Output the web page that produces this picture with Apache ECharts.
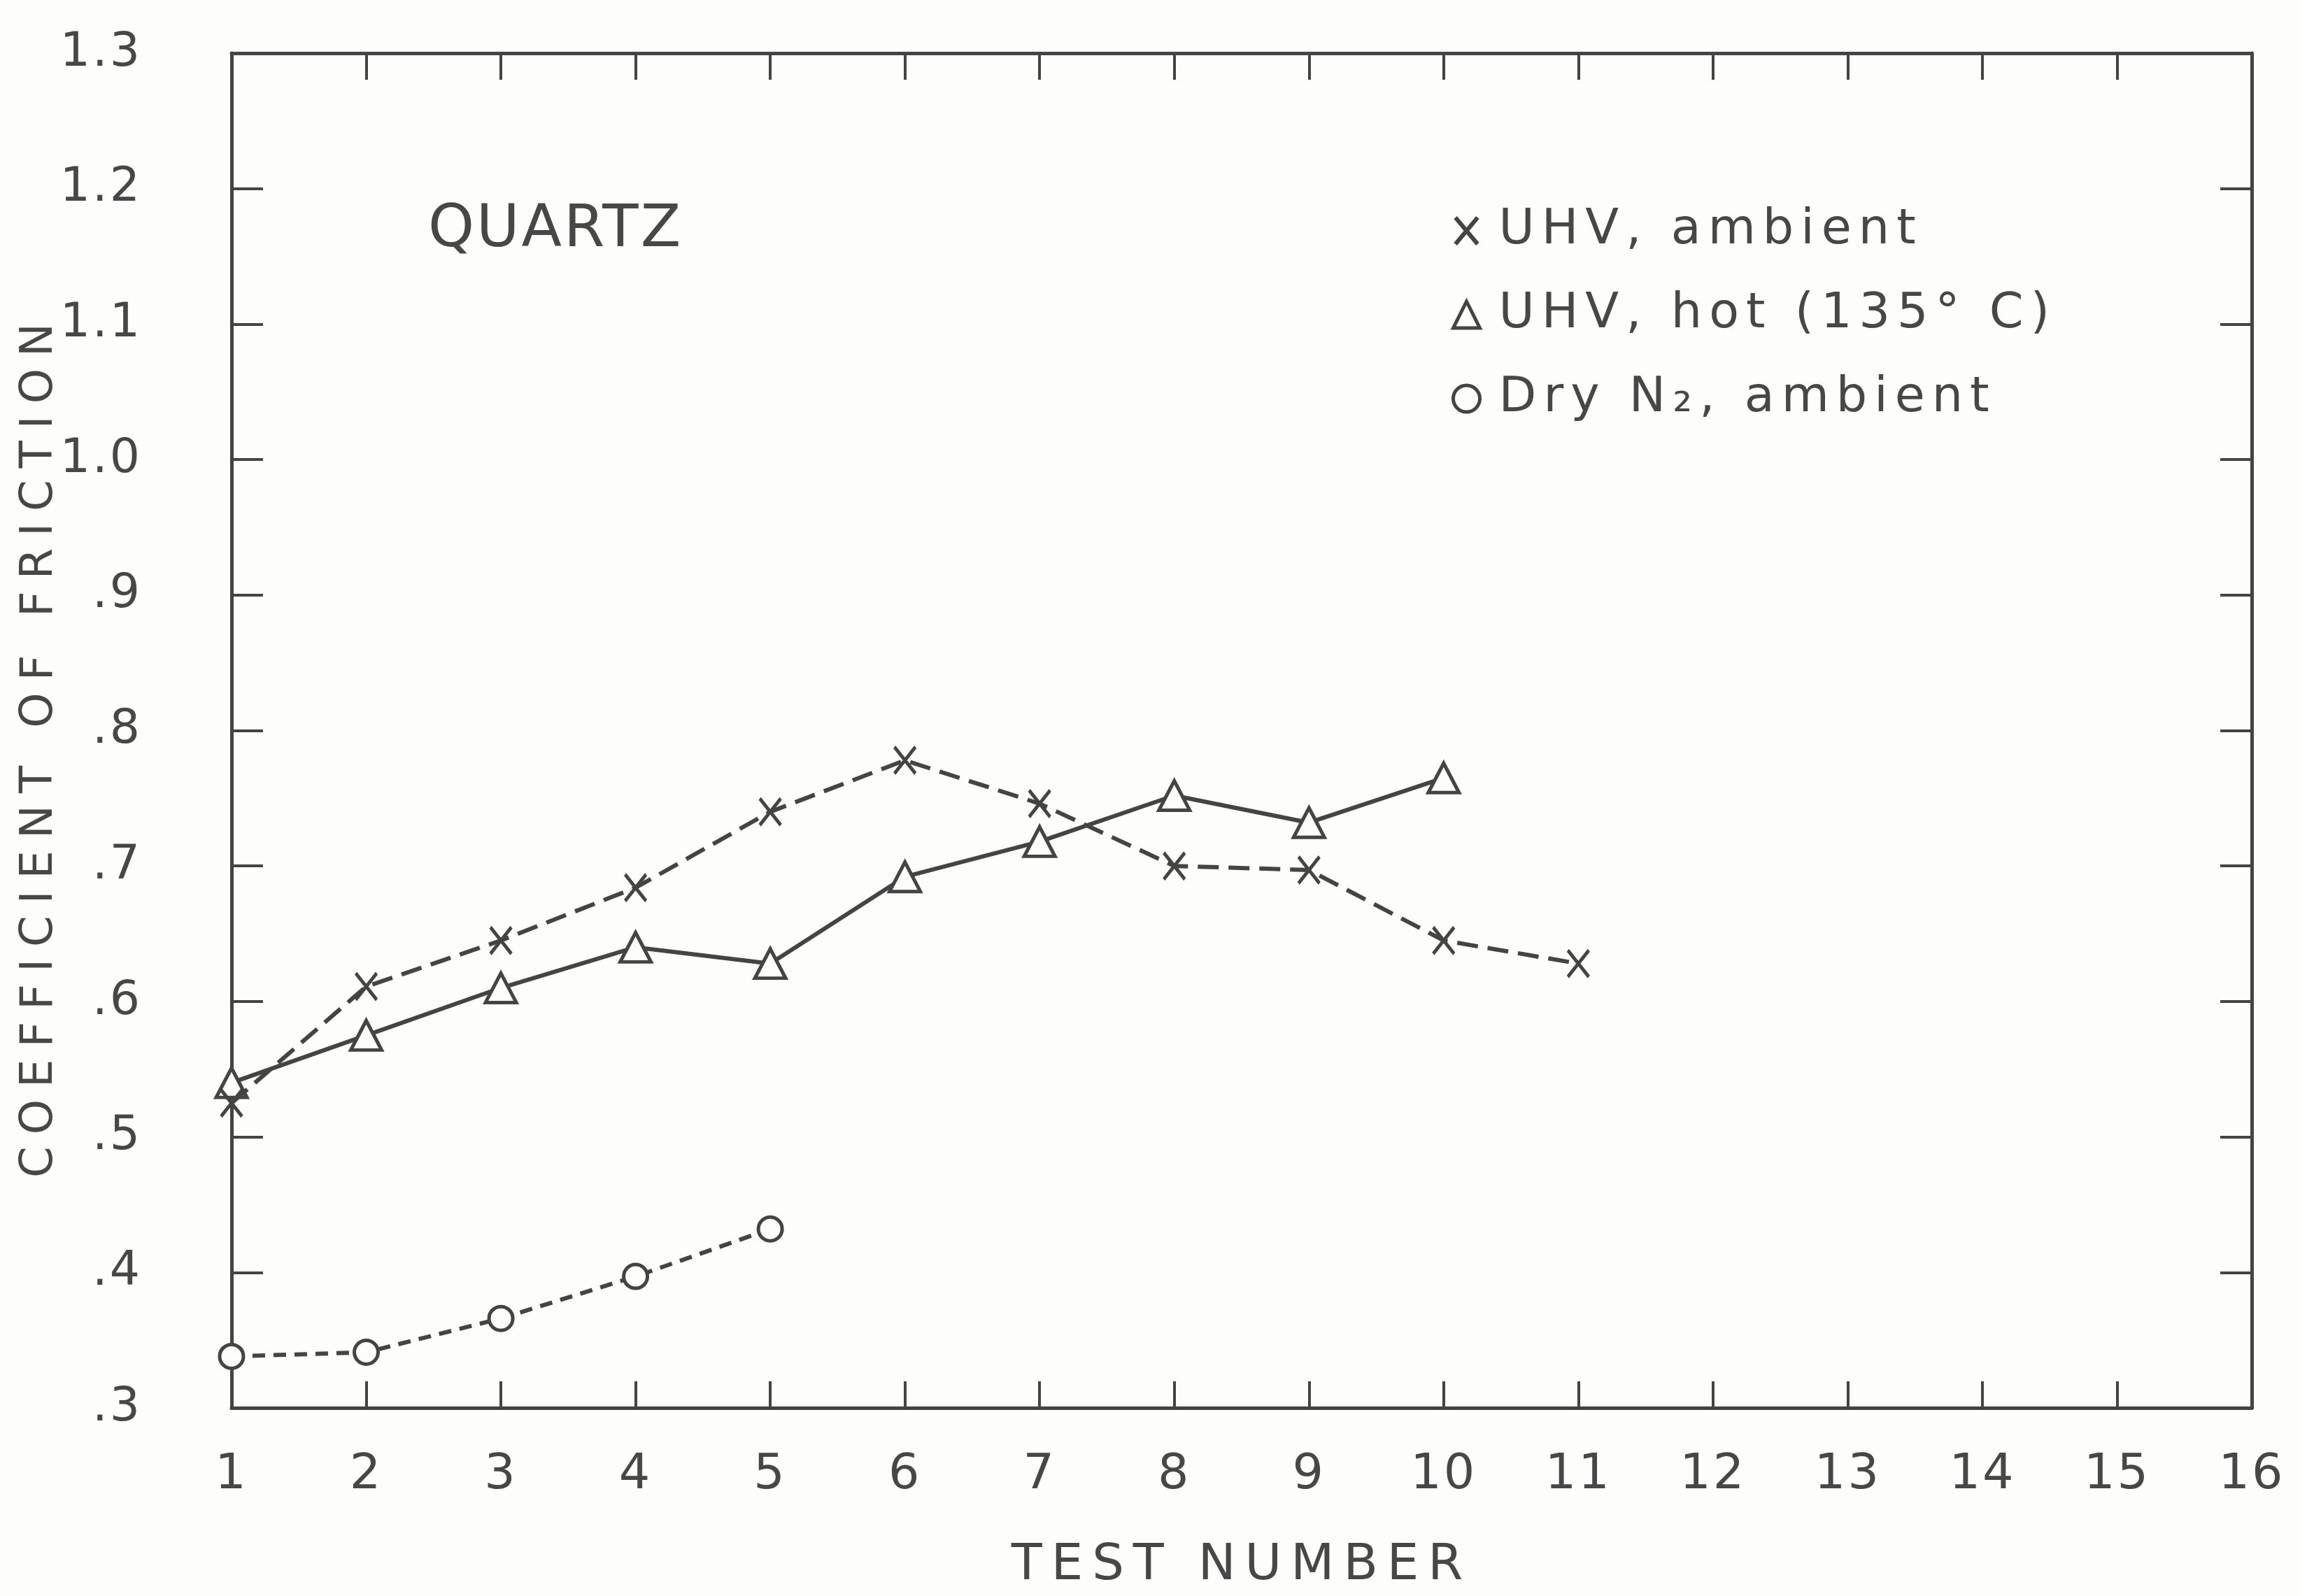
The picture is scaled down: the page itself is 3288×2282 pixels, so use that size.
<!DOCTYPE html>
<html>
<head>
<meta charset="utf-8">
<script src="https://cdn.jsdelivr.net/npm/echarts@6/dist/echarts.min.js"></script>
<style>
  html, body { margin: 0; padding: 0; background: #fdfdfc; }
  #chart { width: 3288px; height: 2282px; }
</style>
</head>
<body>
<div id="chart"></div>
<script>
// Test numbers on the horizontal axis
const testNumbers = [1, 2, 3, 4, 5, 6, 7, 8, 9, 10, 11, 12, 13, 14, 15, 16];
// Coefficient of friction tick labels, from 0.3 up to 1.3
const yTickLabels = ['.3', '.4', '.5', '.6', '.7', '.8', '.9', '1.0', '1.1', '1.2', '1.3'];

// Series names as printed in the key
const seriesNames = ['UHV, ambient', 'UHV, hot (135° C)', 'Dry N₂, ambient'];

// Measured friction coefficients per test
const uhvAmbient = [0.525, 0.611, 0.645, 0.684, 0.740, 0.778, 0.746, 0.700, 0.697, 0.645, 0.628];
const uhvHot     = [0.540, 0.575, 0.610, 0.640, 0.628, 0.692, 0.718, 0.752, 0.732, 0.765];
const dryN2      = [0.338, 0.341, 0.366, 0.397, 0.432];

const INK = '#444444';
const TEXT = '#474747';
const NUM_FONT = 'DejaVu Sans';
// Lettered titles: the trailing "track-N" family is never installed; it only
// tells the fillText hook below how many pixels of tracking to add.
const lettered = track => 'DejaVu Sans, track-' + track;
const X_MARK = 'path://M0,0L10,12M10,0L0,12';

// Stencil-style lettering: widen letter spacing for text set with lettered().
(function () {
  const proto = CanvasRenderingContext2D.prototype;
  const fill = proto.fillText;
  proto.fillText = function (text, x, y, maxWidth) {
    const m = /track-(\d+)/.exec(this.font);
    if (m && 'letterSpacing' in this) {
      const prev = this.letterSpacing;
      this.letterSpacing = m[1] + 'px';
      const r = maxWidth === undefined ? fill.call(this, text, x, y) : fill.call(this, text, x, y, maxWidth);
      this.letterSpacing = prev;
      return r;
    }
    return maxWidth === undefined ? fill.call(this, text, x, y) : fill.call(this, text, x, y, maxWidth);
  };
})();

function pairs(values) {
  return values.map((v, i) => [testNumbers[i], v]);
}

const chart = echarts.init(document.getElementById('chart'), null, { renderer: 'canvas' });

const yLabel = v => yTickLabels[Math.round((v - 0.3) * 10)] || '';

const option = {
  backgroundColor: '#fdfdfc',
  animation: false,
  grid: { left: 331, right: 69, top: 76, bottom: 269 },
  xAxis: [
    {
      type: 'value', position: 'bottom', min: 1, max: 16, interval: 1,
      name: 'TEST NUMBER', nameLocation: 'middle', nameGap: 190, nameMoveOverlap: false,
      nameTextStyle: { fontFamily: lettered(13), fontSize: 72, color: TEXT },
      axisLine: { show: true, onZero: false, lineStyle: { color: INK, width: 5 } },
      axisTick: { show: true, inside: true, length: 38, lineStyle: { color: INK, width: 4 } },
      axisLabel: {
        fontFamily: NUM_FONT, fontSize: 70, color: TEXT, margin: 62,
        formatter: v => String(testNumbers[v - 1])
      },
      splitLine: { show: false }
    },
    {
      type: 'value', position: 'top', min: 1, max: 16, interval: 1,
      axisLine: { show: true, onZero: false, lineStyle: { color: INK, width: 5 } },
      axisTick: { show: true, inside: true, length: 38, lineStyle: { color: INK, width: 4 } },
      axisLabel: { show: false },
      splitLine: { show: false }
    }
  ],
  yAxis: [
    {
      type: 'value', position: 'left', min: 0.3, max: 1.3, interval: 0.1,
      name: 'COEFFICIENT OF FRICTION', nameLocation: 'middle', nameGap: 242, nameMoveOverlap: false,
      nameTextStyle: { fontFamily: lettered(17), fontSize: 64, color: TEXT, padding: [0, 40, 0, 0] },
      axisLine: { show: true, onZero: false, lineStyle: { color: INK, width: 5 } },
      axisTick: { show: true, inside: true, length: 45, lineStyle: { color: INK, width: 4 } },
      axisLabel: { fontFamily: NUM_FONT, fontSize: 68, color: TEXT, margin: 128, formatter: yLabel },
      splitLine: { show: false }
    },
    {
      type: 'value', position: 'right', min: 0.3, max: 1.3, interval: 0.1,
      axisLine: { show: true, onZero: false, lineStyle: { color: INK, width: 5 } },
      axisTick: { show: true, inside: true, length: 45, lineStyle: { color: INK, width: 4 } },
      axisLabel: { show: false },
      splitLine: { show: false }
    }
  ],
  legend: {
    orient: 'vertical', left: 2070, top: 290,
    itemWidth: 38, itemHeight: 38, itemGap: 50,
    textStyle: {
      fontFamily: lettered(10), fontSize: 70, color: TEXT, lineHeight: 70, padding: [0, 0, 0, 22]
    },
    data: [
      { name: seriesNames[0], icon: X_MARK, itemStyle: { color: 'none', borderColor: INK, borderWidth: 6 } },
      { name: seriesNames[1], icon: 'triangle', itemStyle: { color: 'none', borderColor: INK, borderWidth: 5 } },
      { name: seriesNames[2], icon: 'circle', itemStyle: { color: 'none', borderColor: INK, borderWidth: 5 } }
    ]
  },
  graphic: [
    {
      type: 'text', left: 612, top: 288,
      style: { text: 'QUARTZ', fontFamily: lettered(3), fontSize: 84, fill: TEXT }
    }
  ],
  series: [
    {
      name: seriesNames[0], type: 'line', data: pairs(uhvAmbient),
      symbol: X_MARK, symbolSize: [30, 38],
      itemStyle: { color: 'none', borderColor: INK, borderWidth: 5 },
      lineStyle: { color: INK, width: 6, type: [30, 14] },
      z: 3
    },
    {
      name: seriesNames[1], type: 'line', data: pairs(uhvHot),
      symbol: 'triangle', symbolSize: [44, 42],
      itemStyle: { color: '#fdfdfc', borderColor: INK, borderWidth: 5 },
      lineStyle: { color: INK, width: 6, type: 'solid' },
      z: 2
    },
    {
      name: seriesNames[2], type: 'line', data: pairs(dryN2),
      symbol: 'circle', symbolSize: 34,
      itemStyle: { color: '#fdfdfc', borderColor: INK, borderWidth: 5 },
      lineStyle: { color: INK, width: 6, type: [18, 12] },
      z: 2
    }
  ]
};

chart.setOption(option);
</script>
</body>
</html>
